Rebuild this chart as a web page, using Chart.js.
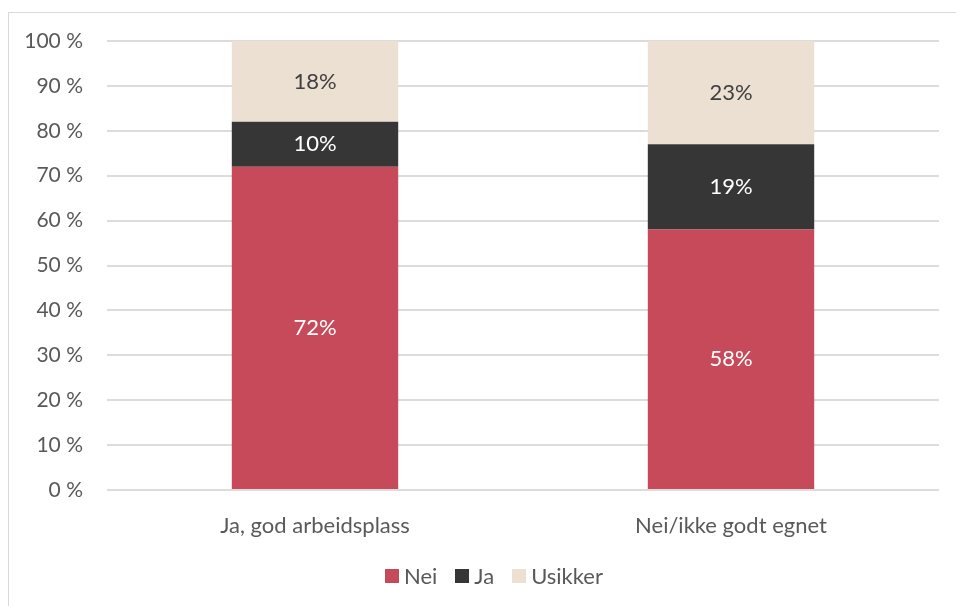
<!DOCTYPE html>
<html>
<head>
<meta charset="utf-8">
<script src="https://cdn.jsdelivr.net/npm/chart.js@4.4.1/dist/chart.umd.min.js"></script>
<style>
  html, body { margin: 0; padding: 0; background: #ffffff; overflow: hidden; }
  #wrap { position: relative; width: 956px; height: 606px; overflow: hidden; }
  #frame { position: absolute; left: 8px; top: 12px; width: 970px; height: 620px; border: 1px solid #d9d9d9; box-sizing: border-box; }
  canvas { position: absolute; left: 0; top: 0; }
  #legend { position: absolute; left: 385px; top: 562px; display: flex; align-items: center; font-family: Lato, sans-serif; font-size: 22px; color: #595959; }
  .item { display: flex; align-items: center; margin-right: 18px; }
  .sw { width: 14px; height: 14px; margin-right: 5px; }
</style>
</head>
<body>
<div id="wrap">
  <div id="frame"></div>
  <canvas id="c" width="956" height="606"></canvas>
  <div id="legend"></div>
</div>
<script>
const categories = ['Ja, god arbeidsplass', 'Nei/ikke godt egnet'];
const seriesNames = ['Nei', 'Ja', 'Usikker'];
const neiValues = [72, 58];
const jaValues = [10, 19];
const usikkerValues = [18, 23];
const yTicks = [0, 10, 20, 30, 40, 50, 60, 70, 80, 90, 100];

const colors = ['#C64A59', '#363636', '#EBE0D2'];
const labelColors = ['#ffffff', '#ffffff', '#404040'];
const FONT = 'Lato, sans-serif';

const dataLabels = {
  id: 'dataLabels',
  afterDatasetsDraw(chart) {
    const ctx = chart.ctx;
    ctx.save();
    ctx.font = '22px ' + FONT;
    ctx.textAlign = 'center';
    ctx.textBaseline = 'middle';
    chart.data.datasets.forEach((ds, di) => {
      const meta = chart.getDatasetMeta(di);
      meta.data.forEach((el, i) => {
        const v = ds.data[i];
        ctx.fillStyle = labelColors[di];
        ctx.fillText(Math.round(v) + '%', el.x, (el.y + el.base) / 2);
      });
    });
    ctx.restore();
  }
};

new Chart(document.getElementById('c'), {
  type: 'bar',
  data: {
    labels: categories,
    datasets: [
      { label: seriesNames[0], data: neiValues, backgroundColor: colors[0] },
      { label: seriesNames[1], data: jaValues, backgroundColor: colors[1] },
      { label: seriesNames[2], data: usikkerValues, backgroundColor: colors[2] }
    ]
  },
  options: {
    responsive: false,
    animation: false,
    layout: { padding: { left: 0, right: 17, top: 41, bottom: 60 } },
    datasets: { bar: { barPercentage: 0.4, categoryPercentage: 1.0 } },
    plugins: { legend: { display: false }, tooltip: { enabled: false } },
    scales: {
      x: {
        stacked: true,
        grid: { display: false },
        border: { display: false },
        ticks: { color: '#595959', font: { family: FONT, size: 22 }, padding: 15 },
        afterFit(s) { s.height = 56; }
      },
      y: {
        stacked: true,
        min: 0, max: 100,
        afterBuildTicks(s) { s.ticks = yTicks.map(v => ({ value: v })); },
        grid: { color: '#dcdcdc', lineWidth: 2, drawTicks: false },
        border: { display: false },
        ticks: { color: '#595959', font: { family: FONT, size: 21 }, padding: 24, callback: v => v + ' %' },
        afterFit(s) { s.width = 107; }
      }
    }
  },
  plugins: [dataLabels]
});

const legend = document.getElementById('legend');
seriesNames.forEach((n, i) => {
  const it = document.createElement('div');
  it.className = 'item';
  const sw = document.createElement('span');
  sw.className = 'sw';
  sw.style.background = colors[i];
  const t = document.createElement('span');
  t.textContent = n;
  it.appendChild(sw); it.appendChild(t);
  legend.appendChild(it);
});
</script>
</body>
</html>
